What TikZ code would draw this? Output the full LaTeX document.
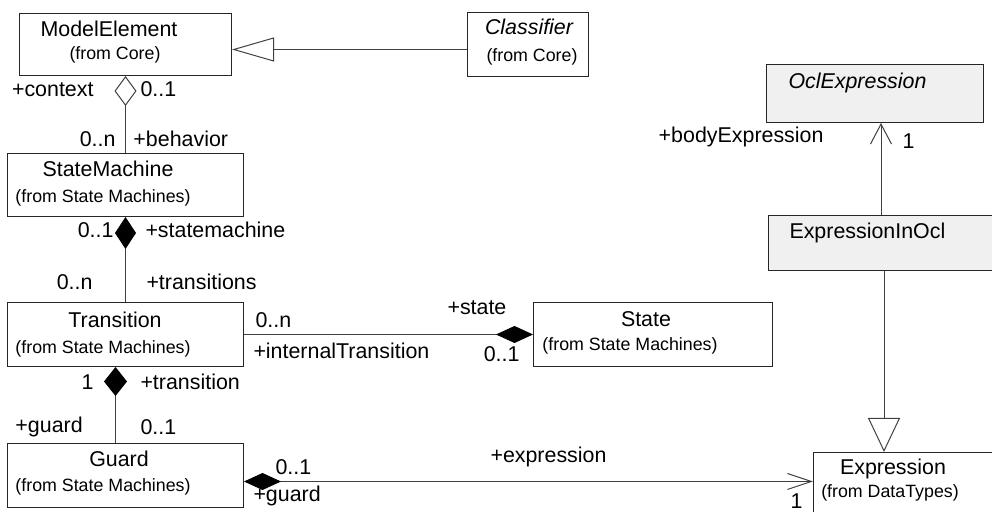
\documentclass[tikz,border=0pt]{standalone}
\usepackage{fontspec}
\setmainfont{Liberation Sans}
\usepackage{xcolor}
\usetikzlibrary{arrows.meta,calc}
\definecolor{oclgray}{HTML}{F0F0F0}
\definecolor{umlline}{HTML}{404040}

\begin{document}
\begin{tikzpicture}[x=0.5pt, y=-0.5pt, line width=0.5pt, draw=umlline,
  cls/.style={draw=black!85, rectangle, inner sep=0pt, anchor=north west},
  nm/.style={font=\fontsize{10.7}{12}\selectfont, anchor=base, inner sep=0pt},
  frm/.style={font=\fontsize{8.9}{10}\selectfont, anchor=base, inner sep=0pt},
  lbl/.style={font=\fontsize{10.7}{12}\selectfont, inner sep=0pt}]
  \useasboundingbox (0,0) rectangle (992,512);
  % classes
  \node[cls, minimum width=106pt, minimum height=31pt] (me) at (19,13) {};
  \node[cls, minimum width=60.5pt, minimum height=32pt] (cl) at (467,12) {};
  \node[cls, minimum width=118pt, minimum height=31.5pt] (sm) at (7,153) {};
  \node[cls, minimum width=118pt, minimum height=32pt] (tr) at (7,302) {};
  \node[cls, minimum width=119.5pt, minimum height=32pt] (st) at (533,302) {};
  \node[cls, minimum width=118pt, minimum height=32pt] (gd) at (7,443) {};
  \node[cls, minimum width=98.5pt, minimum height=45pt] (ex) at (813,452) {};
  \node[cls, fill=oclgray, minimum width=108.5pt, minimum height=29pt] (oe) at (766,64) {};
  \node[cls, fill=oclgray, minimum width=120pt, minimum height=27.5pt] (eio) at (768,215) {};
  % class names
  \node[nm] (meName) at (109,37) {ModelElement};
  \node[frm] (meFrom) at (115,60) {(from Core)};
  \node[nm, font=\fontsize{10.7}{12}\selectfont\itshape] (clName) at (529,35) {Classifier};
  \node[frm] (clFrom) at (532,62) {(from Core)};
  \node[nm] (smName) at (108,177) {StateMachine};
  \node[frm] (smFrom) at (103,203) {(from State Machines)};
  \node[nm] (trName) at (115,328) {Transition};
  \node[frm] (trFrom) at (103,354) {(from State Machines)};
  \node[nm] (stName) at (646,327) {State};
  \node[frm] (stFrom) at (630,351) {(from State Machines)};
  \node[nm] (gdName) at (119,467) {Guard};
  \node[frm] (gdFrom) at (103,492) {(from State Machines)};
  \node[nm] (exName) at (893,475) {Expression};
  \node[frm] (exFrom) at (890,498) {(from DataTypes)};
  \node[nm, anchor=base west, font=\fontsize{10.7}{12}\selectfont\itshape] (oeName) at (788,89) {OclExpression};
  \node[nm, anchor=base west] (eioName) at (789,239) {ExpressionInOcl};
  % generalizations
  \draw[-{Triangle[open, length=21pt, width=12pt]}] ($(cl.west)+(0,5)$) -- ($(me.east)+(0,5)$);
  \draw[-{Triangle[open, length=17pt, width=16pt]}] (884,0 |- eio.south) -- (884,0 |- ex.north);
  % aggregation and compositions
  \draw[{Diamond[open, length=15pt, width=11pt]}-] (me.south) -- (sm.north);
  \draw[{Diamond[length=16pt, width=10.5pt, color=black]}-] (sm.south) -- (tr.north);
  \draw[{Diamond[length=14.5pt, width=11.5pt, color=black]}-] ($(tr.south)+(-10,0)$) -- ($(gd.north)+(-10,0)$);
  \draw[{Diamond[length=18.5pt, width=8.5pt, color=black]}-] (st.west) -- (tr.east);
  \draw[{Diamond[length=18.5pt, width=8.5pt, color=black]}-{Straight Barb[length=12pt, width=8pt]}]
    ($(gd.east)+(0,6)$) coordinate (gdOut) -- (gdOut -| ex.west);
  \draw[-{Straight Barb[length=10pt, width=10.5pt]}] (881,0 |- eio.north) -- (881,0 |- oe.south);
  % role names and multiplicities
  \node[lbl, anchor=base east] (l1) at (94,97) {+context};
  \node[lbl, anchor=base west] (l2) at (140,97) {0..1};
  \node[lbl, anchor=base east] (l3) at (116,147) {0..n};
  \node[lbl, anchor=base west] (l4) at (133,147) {+behavior};
  \node[lbl, anchor=base east] (l5) at (114,238) {0..1};
  \node[lbl, anchor=base west] (l6) at (145,238) {+statemachine};
  \node[lbl, anchor=base east] (l7) at (93,290) {0..n};
  \node[lbl, anchor=base west] (l8) at (146,290) {+transitions};
  \node[lbl, anchor=base west] (l9) at (255,328) {0..n};
  \node[lbl, anchor=base west] (l10) at (253,359) {+internalTransition};
  \node[lbl, anchor=base west] (l11) at (447,315) {+state};
  \node[lbl, anchor=base east] (l12) at (520,362) {0..1};
  \node[lbl, anchor=base east] (l13) at (94,390) {1};
  \node[lbl, anchor=base west] (l14) at (140,390) {+transition};
  \node[lbl, anchor=base west] (l15) at (15,433) {+guard};
  \node[lbl, anchor=base west] (l16) at (140,435) {0..1};
  \node[lbl, anchor=base west] (l17) at (275,475) {0..1};
  \node[lbl, anchor=base west] (l18) at (253,502) {+guard};
  \node[lbl, anchor=base west] (l19) at (490,463) {+expression};
  \node[lbl, anchor=base east] (l20) at (803,509) {1};
  \node[lbl, anchor=base east] (l21) at (824,143) {+bodyExpression};
  \node[lbl, anchor=base west] (l22) at (902,149) {1};
\end{tikzpicture}
\end{document}
